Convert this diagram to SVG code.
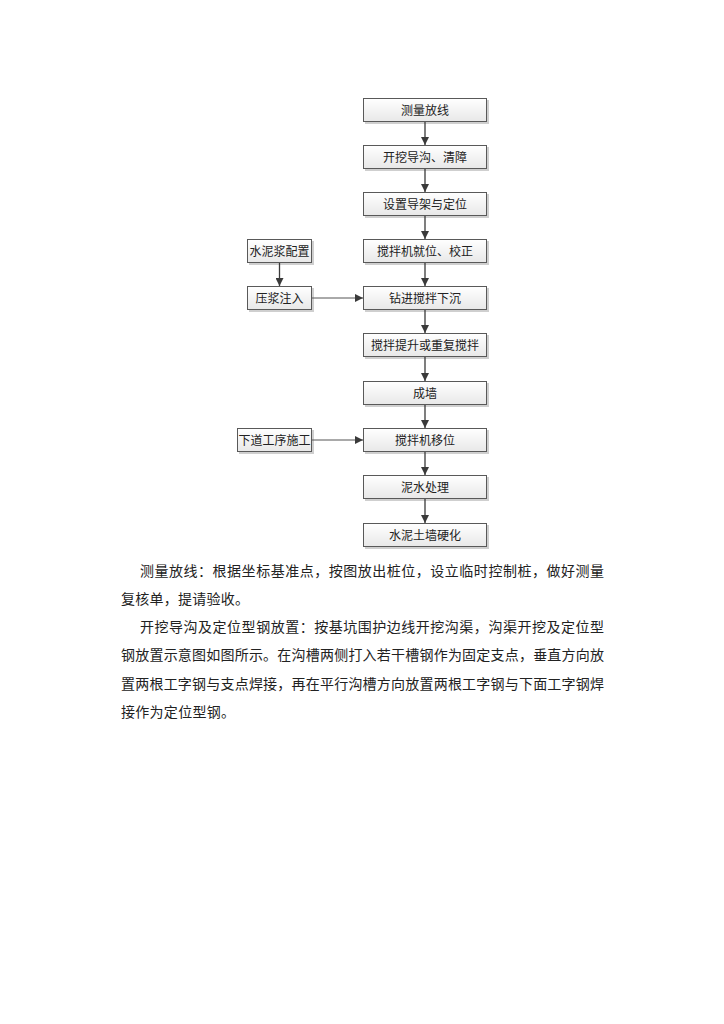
<svg xmlns="http://www.w3.org/2000/svg" width="724" height="1024" viewBox="0 0 724 1024">
<defs>
<linearGradient id="g" x1="0" y1="0" x2="0" y2="1">
<stop offset="0" stop-color="#ffffff"/>
<stop offset="1" stop-color="#e8e8e8"/>
</linearGradient>
<marker id="ah" viewBox="0 0 10 10" refX="10" refY="5" markerWidth="8" markerHeight="8" markerUnits="userSpaceOnUse" orient="auto">
<path d="M0,0 L10,5 L0,10 z" fill="#3a3a3a"/>
</marker>
</defs>
<style>
.box{fill:url(#g);stroke:#595959;stroke-width:1}
.sh{fill:#cfcfcf}
.lb{font-family:"Noto Sans CJK SC","Noto Sans",sans-serif;font-size:12px;fill:#222;text-anchor:middle}
.cn{stroke:#3a3a3a;stroke-width:1.3;fill:none;marker-end:url(#ah)}
.cn2{stroke:#555;stroke-width:1;fill:none;marker-end:url(#ah)}
.p{font-family:"Noto Sans CJK SC","Noto Sans",sans-serif;font-size:14px;fill:#222}
</style>
<rect width="724" height="1024" fill="#ffffff"/>
<g id="n1"><rect class="sh" x="365" y="100" width="124" height="24"/><rect class="box" x="363.5" y="98.5" width="123" height="23"/><text class="lb" x="425" y="114.5">测量放线</text></g>
<g id="n2"><rect class="sh" x="365" y="147" width="124" height="24"/><rect class="box" x="363.5" y="145.5" width="123" height="23"/><text class="lb" x="425" y="161.5">开挖导沟、清障</text></g>
<g id="n3"><rect class="sh" x="365" y="194" width="124" height="24"/><rect class="box" x="363.5" y="192.5" width="123" height="23"/><text class="lb" x="425" y="208.5">设置导架与定位</text></g>
<g id="n4"><rect class="sh" x="365" y="241" width="124" height="24"/><rect class="box" x="363.5" y="239.5" width="123" height="23"/><text class="lb" x="425" y="255.5">搅拌机就位、校正</text></g>
<g id="n5"><rect class="sh" x="365" y="288" width="124" height="24"/><rect class="box" x="363.5" y="286.5" width="123" height="23"/><text class="lb" x="425" y="302.5">钻进搅拌下沉</text></g>
<g id="n6"><rect class="sh" x="365" y="335" width="124" height="24"/><rect class="box" x="363.5" y="333.5" width="123" height="23"/><text class="lb" x="425" y="349.5">搅拌提升或重复搅拌</text></g>
<g id="n7"><rect class="sh" x="365" y="383" width="124" height="24"/><rect class="box" x="363.5" y="381.5" width="123" height="23"/><text class="lb" x="425" y="397.5">成墙</text></g>
<g id="n8"><rect class="sh" x="365" y="430" width="124" height="24"/><rect class="box" x="363.5" y="428.5" width="123" height="23"/><text class="lb" x="425" y="444.5">搅拌机移位</text></g>
<g id="n9"><rect class="sh" x="365" y="477" width="124" height="24"/><rect class="box" x="363.5" y="475.5" width="123" height="23"/><text class="lb" x="425" y="491.5">泥水处理</text></g>
<g id="n10"><rect class="sh" x="365" y="525" width="124" height="24"/><rect class="box" x="363.5" y="523.5" width="123" height="23"/><text class="lb" x="425" y="539.5">水泥土墙硬化</text></g>
<g id="s1"><rect class="sh" x="249" y="241" width="65" height="24"/><rect class="box" x="247.5" y="239.5" width="64" height="23"/><text class="lb" x="279.5" y="255.5">水泥浆配置</text></g>
<g id="s2"><rect class="sh" x="249" y="288" width="65" height="24"/><rect class="box" x="247.5" y="286.5" width="64" height="23"/><text class="lb" x="279.5" y="302.5">压浆注入</text></g>
<g id="s3"><rect class="sh" x="239" y="430" width="75" height="24"/><rect class="box" x="237.5" y="428.5" width="74" height="23"/><text class="lb" x="274.5" y="444.5">下道工序施工</text></g>
<g id="connectors">
<line class="cn" x1="425" y1="122" x2="425" y2="145"/>
<line class="cn" x1="425" y1="169" x2="425" y2="192"/>
<line class="cn" x1="425" y1="216" x2="425" y2="239"/>
<line class="cn" x1="425" y1="263" x2="425" y2="286"/>
<line class="cn" x1="425" y1="310" x2="425" y2="333"/>
<line class="cn" x1="425" y1="357" x2="425" y2="381"/>
<line class="cn" x1="425" y1="405" x2="425" y2="428"/>
<line class="cn" x1="425" y1="452" x2="425" y2="475"/>
<line class="cn" x1="425" y1="499" x2="425" y2="523"/>
<line class="cn" x1="279.5" y1="263" x2="279.5" y2="286"/>
<line class="cn2" x1="312" y1="298" x2="363" y2="298"/>
<line class="cn2" x1="312" y1="440" x2="363" y2="440"/>
</g>
<g id="text">
<text class="p" x="140" y="576" textLength="464" lengthAdjust="spacing">测量放线：根据坐标基准点，按图放出桩位，设立临时控制桩，做好测量</text>
<text class="p" x="121" y="604" textLength="128" lengthAdjust="spacing">复核单，提请验收。</text>
<text class="p" x="140" y="632" textLength="464" lengthAdjust="spacing">开挖导沟及定位型钢放置：按基坑围护边线开挖沟渠，沟渠开挖及定位型</text>
<text class="p" x="121" y="660" textLength="483" lengthAdjust="spacing">钢放置示意图如图所示。在沟槽两侧打入若干槽钢作为固定支点，垂直方向放</text>
<text class="p" x="121" y="689" textLength="483" lengthAdjust="spacing">置两根工字钢与支点焊接，再在平行沟槽方向放置两根工字钢与下面工字钢焊</text>
<text class="p" x="121" y="717" textLength="114" lengthAdjust="spacing">接作为定位型钢。</text>
</g>
</svg>
